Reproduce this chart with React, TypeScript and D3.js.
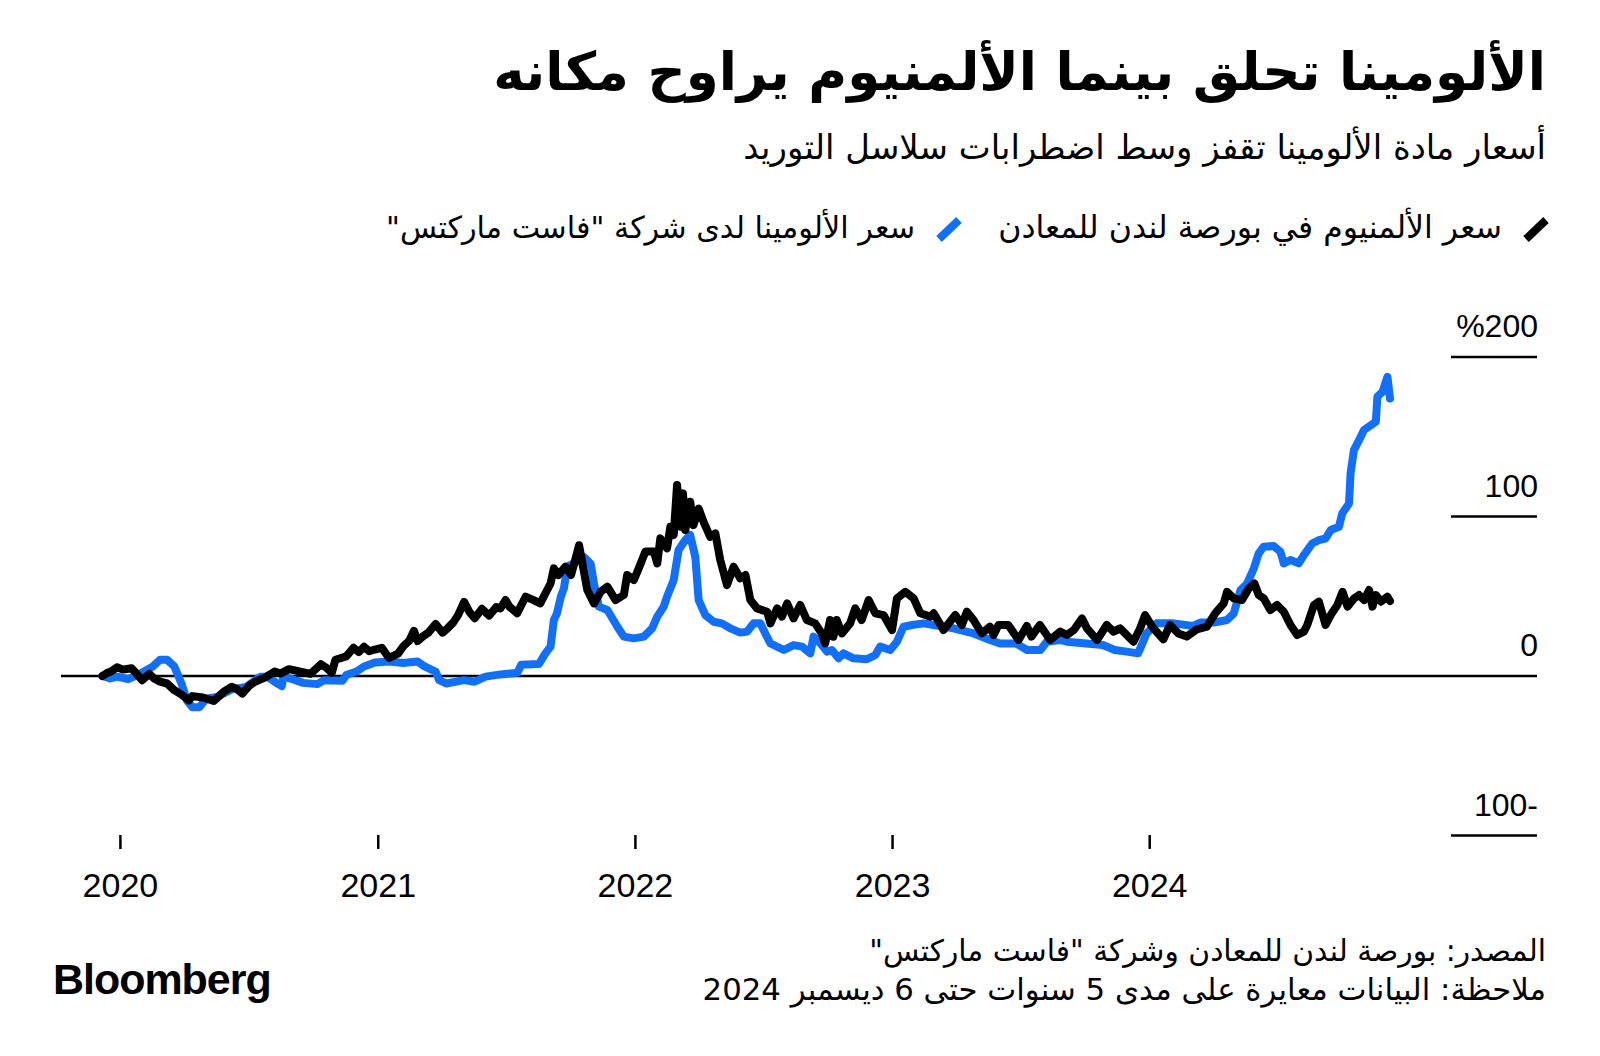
import React, { useLayoutEffect, useRef } from "react";
import * as d3 from "d3";

const W = 1600;
const H = 1056;

const titleText = "الألومينا تحلق بينما الألمنيوم يراوح مكانه";
const subtitleText = "أسعار مادة الألومينا تقفز وسط اضطرابات سلاسل التوريد";
const legendLabels = [
  "سعر الألمنيوم في بورصة لندن للمعادن",
  "سعر الألومينا لدى شركة \"فاست ماركتس\"",
];
const footnotes = [
  "المصدر: بورصة لندن للمعادن وشركة \"فاست ماركتس\"",
  "ملاحظة: البيانات معايرة على مدى 5 سنوات حتى 6 ديسمبر 2024",
];
const yTicks = [-100, 0, 100, 200];
const yTickLabels = ["100-", "0", "100", "%200"];
const xTickYears = [2020, 2021, 2022, 2023, 2024];

// LME aluminium, % change (decimal year, value)
const aluminiumT = [
  2019.93, 2019.946, 2019.965, 2019.987, 2020.01, 2020.043, 2020.06, 2020.084, 2020.112, 2020.13,
  2020.154, 2020.181, 2020.209, 2020.24, 2020.265, 2020.279, 2020.32, 2020.362, 2020.4, 2020.431,
  2020.45, 2020.473, 2020.5, 2020.522, 2020.56, 2020.598, 2020.62, 2020.654, 2020.69, 2020.737,
  2020.778, 2020.8, 2020.82, 2020.834, 2020.876, 2020.904, 2020.925, 2020.945, 2020.965, 2020.987,
  2021.014, 2021.03, 2021.042, 2021.077, 2021.098, 2021.12, 2021.139, 2021.153, 2021.175, 2021.195,
  2021.223, 2021.25, 2021.27, 2021.292, 2021.31, 2021.334, 2021.355, 2021.375, 2021.403, 2021.431,
  2021.459, 2021.475, 2021.495, 2021.51, 2021.54, 2021.573, 2021.604, 2021.63, 2021.67, 2021.683,
  2021.7, 2021.728, 2021.75, 2021.781, 2021.813, 2021.839, 2021.865, 2021.891, 2021.923, 2021.955,
  2021.968, 2021.994, 2022.013, 2022.039, 2022.072, 2022.085, 2022.097, 2022.123, 2022.136, 2022.149,
  2022.162, 2022.175, 2022.185, 2022.194, 2022.213, 2022.226, 2022.246, 2022.265, 2022.291, 2022.311,
  2022.33, 2022.356, 2022.382, 2022.408, 2022.428, 2022.447, 2022.473, 2022.512, 2022.525, 2022.551,
  2022.57, 2022.59, 2022.615, 2022.641, 2022.667, 2022.699, 2022.725, 2022.738, 2022.757, 2022.77,
  2022.783, 2022.803, 2022.835, 2022.855, 2022.88, 2022.907, 2022.933, 2022.965, 2022.998, 2023.017,
  2023.05, 2023.082, 2023.108, 2023.147, 2023.16, 2023.198, 2023.244, 2023.27, 2023.289, 2023.315,
  2023.347, 2023.379, 2023.393, 2023.412, 2023.45, 2023.49, 2023.522, 2023.54, 2023.573, 2023.613,
  2023.652, 2023.678, 2023.705, 2023.737, 2023.756, 2023.795, 2023.833, 2023.859, 2023.885, 2023.937,
  2023.963, 2023.982, 2024.014, 2024.053, 2024.079, 2024.111, 2024.144, 2024.183, 2024.222, 2024.254,
  2024.287, 2024.3, 2024.326, 2024.358, 2024.384, 2024.406, 2024.423, 2024.442, 2024.468, 2024.494,
  2024.52, 2024.546, 2024.572, 2024.598, 2024.611, 2024.637, 2024.656, 2024.682, 2024.702, 2024.728,
  2024.748, 2024.767, 2024.793, 2024.812, 2024.832, 2024.851, 2024.864, 2024.877, 2024.897, 2024.922,
  2024.932,
];
const aluminiumV = [
  0, 1.7, 3, 5.5, 4, 4.9, 2, -2.6, 1.3, -1.5,
  -3.6, -4.7, -8.9, -12, -15.3, -12.6, -13.5, -15.7, -10, -6.8,
  -8, -11, -6, -3.6, -1, 2.8, 1.5, 4.3, 3, 1.3,
  7.4, 5, 2.1, 10.2, 12.3, 17.7, 15, 18.3, 15.5, 16.6,
  17.7, 14, 11.3, 14, 18.7, 22, 28.3, 21.9, 25, 27.2,
  32.6, 27.2, 30, 33.6, 38, 46.4, 40, 36.2, 42.1, 37.9,
  43.2, 42.4, 47.6, 43.5, 39.3, 49.7, 47.6, 45.5, 58, 67.5,
  63.3, 68.5, 63.3, 82, 53.9, 45.5, 52.8, 56, 47.6, 50.8,
  63.3, 60.2, 67.5, 78, 78, 70.6, 86.3, 80, 93.6, 88.4,
  119.8, 93.6, 114.5, 91.5, 109.3, 94.6, 105, 96.7, 87.3, 89.4,
  72.7, 57, 68.5, 61.2, 63.3, 47.6, 42.4, 40.3, 33, 42.4,
  37.2, 45.5, 36.1, 44.5, 35.1, 33, 26.7, 20.4, 35.1, 24.6,
  35.1, 26.7, 33, 42.4, 35.1, 47.6, 39.3, 38.2, 28.8, 48.7,
  52.8, 48.7, 39.3, 37.2, 39.3, 28.8, 38.2, 32, 40.3, 35.1,
  26.7, 30.9, 25.7, 32, 32, 22.6, 31.4, 24.7, 32, 22.6,
  27.8, 25.7, 28.8, 36.1, 29.9, 22.6, 32, 27.8, 29.9, 21.5,
  29.9, 38.2, 29.9, 23, 32, 26.7, 24.7, 29.3, 30.9, 39.3,
  45.5, 52.8, 48.7, 47.6, 54.9, 58, 50.8, 48.7, 41.4, 44.5,
  40.3, 32, 25.7, 27.8, 32, 44.5, 46.6, 32, 38.2, 44.5,
  52.8, 43.5, 48.7, 50.8, 47.6, 53.9, 43.5, 50.8, 46.6, 49.7,
  47,
];

// Fastmarkets alumina, % change (decimal year, value)
const aluminaT = [
  2019.93, 2019.96, 2019.987, 2020.03, 2020.08, 2020.126, 2020.154, 2020.181, 2020.209, 2020.237,
  2020.258, 2020.279, 2020.306, 2020.333, 2020.375, 2020.43, 2020.488, 2020.543, 2020.57, 2020.598,
  2020.626, 2020.632, 2020.667, 2020.709, 2020.764, 2020.79, 2020.861, 2020.876, 2020.916, 2020.945,
  2020.987, 2021.042, 2021.098, 2021.153, 2021.18, 2021.223, 2021.237, 2021.264, 2021.334, 2021.375,
  2021.417, 2021.475, 2021.541, 2021.556, 2021.625, 2021.65, 2021.67, 2021.683, 2021.695, 2021.71,
  2021.722, 2021.735, 2021.764, 2021.8, 2021.826, 2021.839, 2021.858, 2021.891, 2021.93, 2021.955,
  2021.994, 2022.033, 2022.065, 2022.085, 2022.11, 2022.123, 2022.149, 2022.168, 2022.194, 2022.213,
  2022.233, 2022.246, 2022.272, 2022.304, 2022.336, 2022.369, 2022.408, 2022.434, 2022.46, 2022.486,
  2022.505, 2022.525, 2022.577, 2022.615, 2022.648, 2022.68, 2022.693, 2022.725, 2022.745, 2022.764,
  2022.79, 2022.809, 2022.848, 2022.9, 2022.933, 2022.952, 2022.991, 2023.017, 2023.043, 2023.076,
  2023.121, 2023.16, 2023.237, 2023.315, 2023.379, 2023.418, 2023.48, 2023.523, 2023.575, 2023.6,
  2023.652, 2023.678, 2023.818, 2023.864, 2023.91, 2023.955, 2023.988, 2024.027, 2024.092, 2024.17,
  2024.196, 2024.248, 2024.3, 2024.326, 2024.352, 2024.378, 2024.404, 2024.423, 2024.442, 2024.481,
  2024.507, 2024.52, 2024.546, 2024.578, 2024.598, 2024.63, 2024.656, 2024.682, 2024.702, 2024.734,
  2024.747, 2024.773, 2024.779, 2024.792, 2024.812, 2024.831, 2024.877, 2024.883, 2024.903, 2024.922,
  2024.932,
];
const aluminaV = [
  0, -1.5, -0.4, -2, 1.7, 6, 10.2, 10.2, 6, -4.7,
  -15.3, -19.6, -19.6, -14.3, -13.2, -8.5, -6.8, -0.4, -0.4, -3.6,
  -6.4, -0.4, -2, -4.3, -5.1, -2.6, -3, 0.6, 2.8, 6,
  8.5, 9.1, 8.1, 9.1, 6, 2.8, -2.6, -4.7, -2.6, -3.6,
  -0.4, 1, 2, 7, 7.5, 14.2, 18.4, 35.1, 39.3, 49.7,
  55, 68.5, 71, 74.6, 70.4, 58, 43.5, 41.4, 30.9, 24.7,
  23.6, 24.7, 29.9, 37.2, 43.5, 49.7, 60.2, 79, 85.2, 88.4,
  74.6, 47.6, 38.2, 34, 33, 29.9, 27.2, 27.8, 33, 33,
  26.7, 20.4, 16.3, 19.4, 18.4, 14.2, 24.7, 19.4, 15.3, 16.3,
  11.1, 14.2, 11.1, 10.5, 13.2, 18.4, 16.3, 21.5, 30.9, 32,
  33, 32, 29.9, 26.7, 22.6, 20.4, 20.4, 16.3, 16.3, 21.5,
  22.6, 21.5, 19.4, 16.3, 15.3, 14.2, 26.7, 33, 33, 31.4,
  33.5, 33.5, 35.1, 39.3, 53.9, 58, 67.5, 76.9, 81.1, 81.5,
  77.9, 70.6, 72.7, 70.6, 75.8, 83.1, 85.2, 86.2, 91.5, 93.6,
  102, 108.1, 127, 141.6, 147.9, 154.2, 159.4, 175.1, 178.2, 187.6,
  174,
];

const BLUE = "#1270f8";
const ARABIC = "'DejaVu Sans', sans-serif";
const LATIN = "'Liberation Sans', Arial, Helvetica, sans-serif";

function decToDate(t: number): Date {
  const y = Math.floor(t);
  const s = Date.UTC(y, 0, 1);
  const e = Date.UTC(y + 1, 0, 1);
  return new Date(s + (t - y) * (e - s));
}

export default function App() {
  const svgRef = useRef<SVGSVGElement | null>(null);

  const x = d3
    .scaleUtc()
    .domain([new Date(Date.UTC(2020, 0, 1)), new Date(Date.UTC(2024, 0, 1))])
    .range([120.4, 1149.7]);
  const y = d3.scaleLinear().domain([-100, 200]).range([835.5, 357]);

  const line = d3
    .line<[Date, number]>()
    .x((d) => x(d[0]))
    .y((d) => y(d[1]))
    .curve(d3.curveLinear);

  const alum: [Date, number][] = aluminiumT.map((t, i) => [decToDate(t), aluminiumV[i]]);
  const alumina: [Date, number][] = aluminaT.map((t, i) => [decToDate(t), aluminaV[i]]);

  useLayoutEffect(() => {
    const fit = () => {
      if (!svgRef.current) return;
      d3.select(svgRef.current)
        .selectAll<SVGTextElement, unknown>("text[data-fit]")
        .each(function () {
          const target = +(this.getAttribute("data-fit") || 0);
          const base = +(this.getAttribute("data-base") || 20);
          this.setAttribute("font-size", String(base));
          const w = this.getComputedTextLength();
          if (w > 0) this.setAttribute("font-size", String((base * target) / w));
        });
    };
    fit();
    if ((document as any).fonts && (document as any).fonts.ready) {
      (document as any).fonts.ready.then(fit);
    }
  }, []);

  const right = 1546;

  return (
    <div style={{ position: "absolute", left: 0, top: 0, width: W, height: H, background: "#fff" }}>
      <svg ref={svgRef} width={W} height={H} viewBox={`0 0 ${W} ${H}`} style={{ display: "block" }}>
        <rect width={W} height={H} fill="#fff" />
        {/* Title */}
        <text
          x={right}
          y={90}
          direction="rtl"
          textAnchor="start"
          fontFamily={ARABIC}
          fontWeight={700}
          fontSize={46}
          data-base={46}
          data-fit={1053}
          fill="#000"
        >
          {titleText}
        </text>
        <text
          x={right}
          y={159}
          direction="rtl"
          textAnchor="start"
          fontFamily={ARABIC}
          fontSize={30}
          data-base={30}
          data-fit={803}
          fill="#000"
        >
          {subtitleText}
        </text>

        {/* Legend */}
        <line x1={1526} y1={239} x2={1546} y2={220} stroke="#000" strokeWidth={8} />
        <text
          x={1502}
          y={238}
          direction="rtl"
          textAnchor="start"
          fontFamily={ARABIC}
          fontSize={26}
          data-base={26}
          data-fit={504}
          fill="#000"
        >
          {legendLabels[0]}
        </text>
        <line x1={939} y1={239} x2={959} y2={220} stroke={BLUE} strokeWidth={8} />
        <text
          x={915}
          y={238}
          direction="rtl"
          textAnchor="start"
          fontFamily={ARABIC}
          fontSize={26}
          data-base={26}
          data-fit={529}
          fill="#000"
        >
          {legendLabels[1]}
        </text>

        {/* Y gridlines & labels */}
        {yTicks.map((v, i) => (
          <g key={v}>
            <line
              x1={v === 0 ? 61 : 1451}
              x2={1537}
              y1={y(v)}
              y2={y(v)}
              stroke="#000"
              strokeWidth={2.5}
            />
            <text
              x={1538}
              y={y(v) - 20}
              textAnchor="end"
              fontFamily={LATIN}
              fontSize={32}
              fill="#000"
            >
              {yTickLabels[i]}
            </text>
          </g>
        ))}

        {/* X ticks */}
        {xTickYears.map((yr) => {
          const px = x(new Date(Date.UTC(yr, 0, 1)));
          return (
            <g key={yr}>
              <line x1={px} x2={px} y1={835} y2={849} stroke="#000" strokeWidth={2.5} />
              <text x={px} y={897} textAnchor="middle" fontFamily={LATIN} fontSize={34} fill="#000">
                {String(yr)}
              </text>
            </g>
          );
        })}

        {/* Series */}
        <path
          d={line(alumina) || ""}
          fill="none"
          stroke={BLUE}
          strokeWidth={8}
          strokeLinejoin="round"
          strokeLinecap="round"
        />
        <path
          d={line(alum) || ""}
          fill="none"
          stroke="#000"
          strokeWidth={8}
          strokeLinejoin="round"
          strokeLinecap="round"
        />

        {/* Footer */}
        <text
          x={right}
          y={961}
          direction="rtl"
          textAnchor="start"
          fontFamily={ARABIC}
          fontSize={26}
          data-base={26}
          data-fit={677}
          fill="#000"
        >
          {footnotes[0]}
        </text>
        <text
          x={right}
          y={1000}
          direction="rtl"
          textAnchor="start"
          fontFamily={ARABIC}
          fontSize={26}
          data-base={26}
          data-fit={844}
          fill="#000"
        >
          {footnotes[1]}
        </text>
        <text
          x={53}
          y={994}
          fontFamily={LATIN}
          fontWeight={700}
          fontSize={40}
          letterSpacing={-1}
          data-base={40}
          data-fit={217}
          fill="#000"
        >
          Bloomberg
        </text>
      </svg>
    </div>
  );
}
